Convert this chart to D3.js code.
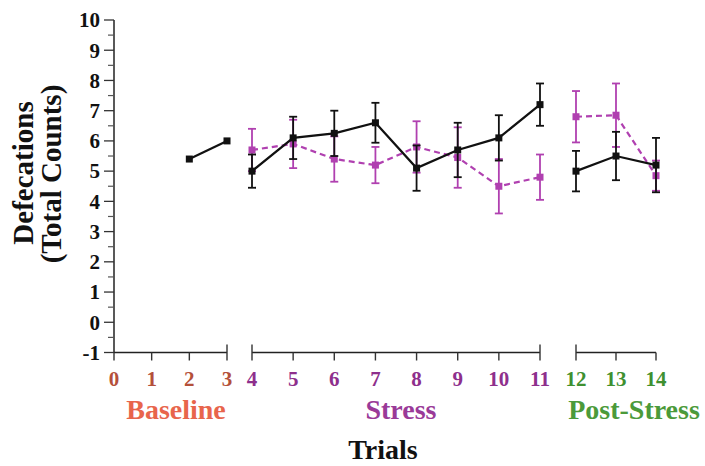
<!DOCTYPE html>
<html>
<head>
<meta charset="utf-8">
<script src="https://cdn.jsdelivr.net/npm/d3@7"></script>
<style>
    body { margin: 0; background: #fff; }
    svg { display: block; font-family: "Liberation Serif", "Times New Roman", serif; font-weight: bold; }
</style>
</head>
<body>
<script>
// trials on the x axis, split in three phases
const trialTicks = [0, 1, 2, 3, 4, 5, 6, 7, 8, 9, 10, 11, 12, 13, 14];
const phaseNames = ["Baseline", "Stress", "Post-Stress"];
const phaseTrials = [[0, 1, 2, 3], [4, 5, 6, 7, 8, 9, 10, 11], [12, 13, 14]];
const yTicks = [-1, 0, 1, 2, 3, 4, 5, 6, 7, 8, 9, 10];

// black series (solid line)
const blackBaseTrials = [2, 3];
const blackBase = [5.4, 6.0];
const blackStress = [5.0, 6.1, 6.25, 6.6, 5.1, 5.7, 6.1, 7.2];
const blackStressErr = [0.55, 0.7, 0.75, 0.66, 0.75, 0.9, 0.75, 0.7];
const blackPost = [5.0, 5.5, 5.2];
const blackPostErr = [0.67, 0.8, 0.9];

// magenta series (dashed line)
const pinkStress = [5.7, 5.9, 5.4, 5.2, 5.8, 5.45, 4.5, 4.8];
const pinkStressErr = [0.7, 0.8, 0.75, 0.6, 0.85, 1.0, 0.9, 0.75];
const pinkPost = [6.8, 6.85, 4.85];
const pinkPostErr = [0.85, 1.05, 0.5];

const width = 705, height = 466;
const axisLabelColors = ["#b4503a", "#8e2f8c", "#3f9030"];
const phaseColors = ["#e8654c", "#9a3a98", "#4b9a3a"];
const pink = "#b040b0";

const svg = d3.select("body").append("svg")
    .attr("width", width)
    .attr("height", height)
    .attr("viewBox", [0, 0, width, height]);

// broken x axis: one linear piece per phase
const x = d3.scaleLinear()
    .domain([0, 3, 4, 11, 12, 14])
    .range([114, 227, 252, 540, 576, 656]);

const y = d3.scaleLinear()
    .domain([-1, 10])
    .range([352.5, 20]);

const y0 = y(-1);

// y axis
const yAxis = svg.append("g");
yAxis.append("line")
    .attr("x1", x(0)).attr("x2", x(0))
    .attr("y1", y(10)).attr("y2", y0)
    .attr("stroke", "#222").attr("stroke-width", 1.5);
yAxis.selectAll(".major").data(yTicks).join("line")
    .attr("x1", x(0) - 10).attr("x2", x(0))
    .attr("y1", d => y(d)).attr("y2", d => y(d))
    .attr("stroke", "#333").attr("stroke-width", 1.3);
yAxis.selectAll(".minor").data(yTicks.slice(0, -1).map(d => d + 0.5)).join("line")
    .attr("x1", x(0) - 6).attr("x2", x(0))
    .attr("y1", d => y(d)).attr("y2", d => y(d))
    .attr("stroke", "#555").attr("stroke-width", 1.2);
yAxis.selectAll("text").data(yTicks).join("text")
    .attr("x", x(0) - 14)
    .attr("y", d => y(d))
    .attr("dy", "0.35em")
    .attr("text-anchor", "end")
    .style("font-size", "21px")
    .attr("fill", "#111")
    .text(d => d);

// x axis, one piece per phase
phaseTrials.forEach((trials, i) => {
    const g = svg.append("g");
    const lo = d3.min(trials), hi = d3.max(trials);
    g.append("line")
        .attr("x1", x(lo)).attr("x2", x(hi))
        .attr("y1", y0).attr("y2", y0)
        .attr("stroke", "#222").attr("stroke-width", 1.5);
    // ends next to a break cross the axis, other ticks hang below it
    g.selectAll("line.tick").data(trials).join("line")
        .attr("class", "tick")
        .attr("x1", d => x(d)).attr("x2", d => x(d))
        .attr("y1", d => (d === lo && i > 0) || (d === hi && i < 2) ? y0 - 8 : y0)
        .attr("y2", y0 + 8)
        .attr("stroke", "#333").attr("stroke-width", 1.4);
    g.selectAll("text").data(trials).join("text")
        .attr("x", d => x(d))
        .attr("y", 386)
        .attr("text-anchor", "middle")
        .style("font-size", "21px")
        .attr("fill", axisLabelColors[i])
        .text(d => d);
});

// phase labels
const phaseX = [176, 401, 634];
svg.append("g").selectAll("text").data(phaseNames).join("text")
    .attr("x", (d, i) => phaseX[i])
    .attr("y", 419)
    .attr("text-anchor", "middle")
    .style("font-size", "28px")
    .attr("fill", (d, i) => phaseColors[i])
    .text(d => d);

svg.append("text")
    .attr("x", 383).attr("y", 459)
    .attr("text-anchor", "middle")
    .style("font-size", "28px")
    .attr("fill", "#111")
    .text("Trials");

svg.append("text")
    .attr("transform", "translate(33,173) rotate(-90)")
    .attr("text-anchor", "middle")
    .style("font-size", "29px")
    .attr("fill", "#111")
    .text("Defecations");
svg.append("text")
    .attr("transform", "translate(61,174) rotate(-90)")
    .attr("text-anchor", "middle")
    .style("font-size", "29px")
    .attr("fill", "#111")
    .text("(Total Counts)");

// series
function zip(ts, vs, es) {
    return ts.map((t, i) => ({t, v: vs[i], e: es ? es[i] : 0}));
}

const line = d3.line().x(d => x(d.t)).y(d => y(d.v));

function drawSeries(segments, color, dashed) {
    const g = svg.append("g");
    segments.forEach(seg => {
        g.append("path")
            .attr("d", line(seg))
            .attr("fill", "none")
            .attr("stroke", color)
            .attr("stroke-width", 2.2)
            .attr("stroke-dasharray", dashed ? "6,4" : null);
        const eb = g.append("g").selectAll("g").data(seg.filter(d => d.e > 0)).join("g")
            .attr("stroke", color)
            .attr("stroke-width", 1.8);
        eb.append("line")
            .attr("x1", d => x(d.t)).attr("x2", d => x(d.t))
            .attr("y1", d => y(d.v - d.e)).attr("y2", d => y(d.v + d.e));
        eb.append("line")
            .attr("x1", d => x(d.t) - 4).attr("x2", d => x(d.t) + 4)
            .attr("y1", d => y(d.v + d.e)).attr("y2", d => y(d.v + d.e));
        eb.append("line")
            .attr("x1", d => x(d.t) - 4).attr("x2", d => x(d.t) + 4)
            .attr("y1", d => y(d.v - d.e)).attr("y2", d => y(d.v - d.e));
        g.append("g").selectAll("rect").data(seg).join("rect")
            .attr("x", d => x(d.t) - 3.5)
            .attr("y", d => y(d.v) - 3.5)
            .attr("width", 7).attr("height", 7)
            .attr("fill", color);
    });
}

drawSeries([
    zip(phaseTrials[1], pinkStress, pinkStressErr),
    zip(phaseTrials[2], pinkPost, pinkPostErr)
], pink, true);

drawSeries([
    zip(blackBaseTrials, blackBase),
    zip(phaseTrials[1], blackStress, blackStressErr),
    zip(phaseTrials[2], blackPost, blackPostErr)
], "#111", false);
</script>
</body>
</html>
